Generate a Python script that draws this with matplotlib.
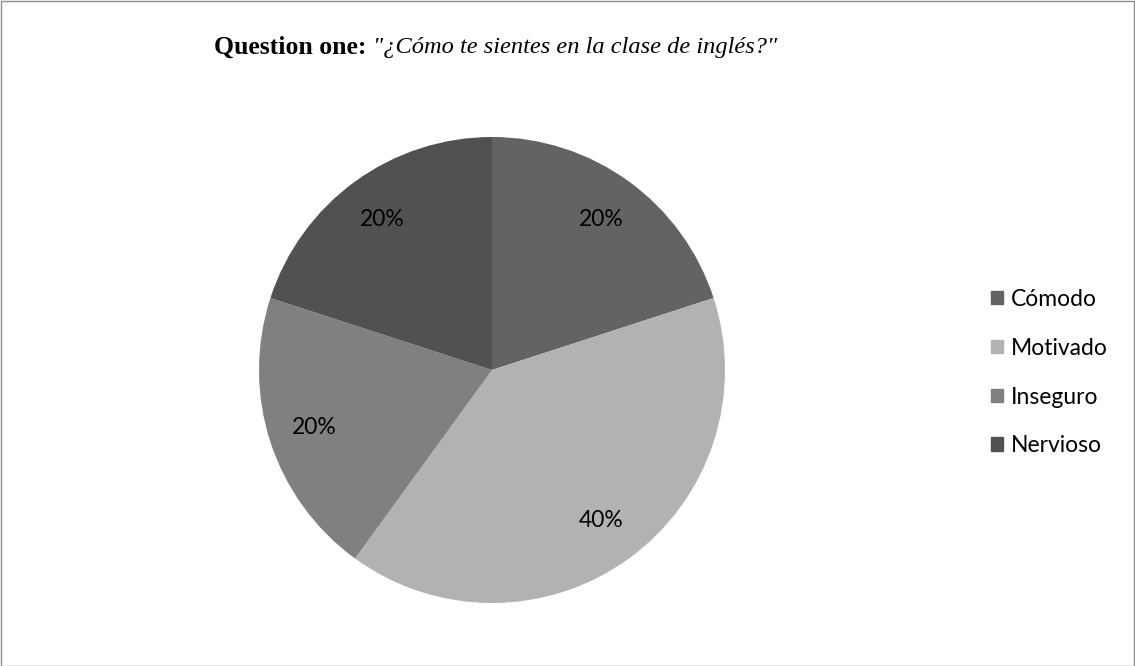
import matplotlib.pyplot as plt
from matplotlib.patches import Rectangle

W, H = 1135, 666

labels = ["Cómodo", "Motivado", "Inseguro", "Nervioso"]
values = [20, 40, 20, 20]
colors = ["#636363", "#b2b2b2", "#808080", "#515151"]

fig = plt.figure(figsize=(W / 100, H / 100), dpi=100)
fig.patch.set_facecolor("white")
fig.add_artist(Rectangle((0.5 / W, 0.5 / H), 1 - 1.5 / W, 1 - 1.5 / H,
                         transform=fig.transFigure, fill=False,
                         edgecolor="#8c8c8c", linewidth=1))

# pie axes: centre ~ (492, 370), radius ~ 233 px
cx, cy, r = 492, 370, 233
ax = fig.add_axes([(cx - r) / W, (H - cy - r) / H, 2 * r / W, 2 * r / H])
wedges, texts, autotexts = ax.pie(values, colors=colors, startangle=90,
                                  counterclock=False, autopct="%1.0f%%",
                                  pctdistance=0.8,
                                  textprops=dict(fontsize=16.5, family="Lato",
                                                 color="black"))
ax.set_xlim(-1, 1)
ax.set_ylim(-1, 1)
ax.set_aspect("equal")

# title: bold part + italic part, centred together
t1 = fig.text(0, 1 - 47 / H, "Question one: ", fontsize=18.5, fontweight="bold",
              family="Liberation Serif", va="center")
t2 = fig.text(0, 1 - 47 / H, "\"¿Cómo te sientes en la clase de inglés?\"",
              fontsize=17.6, style="italic", family="Liberation Serif", va="center")
fig.canvas.draw()
rend = fig.canvas.get_renderer()
w1 = t1.get_window_extent(rend).width
w2 = t2.get_window_extent(rend).width
x0 = 496 - (w1 + w2) / 2
t1.set_x(x0 / W)
t2.set_x((x0 + w1) / W)

handles = [Rectangle((0, 0), 1, 1, color=c) for c in colors]
fig.legend(handles, labels, loc="upper left", bbox_to_anchor=(970 / W, 1 - 268 / H),
           frameon=False, prop=dict(family="Lato", size=16.5),
           handlelength=0.55, handleheight=0.55, handletextpad=0.35,
           labelspacing=1.22)

fig.savefig("out.png", dpi=100)
